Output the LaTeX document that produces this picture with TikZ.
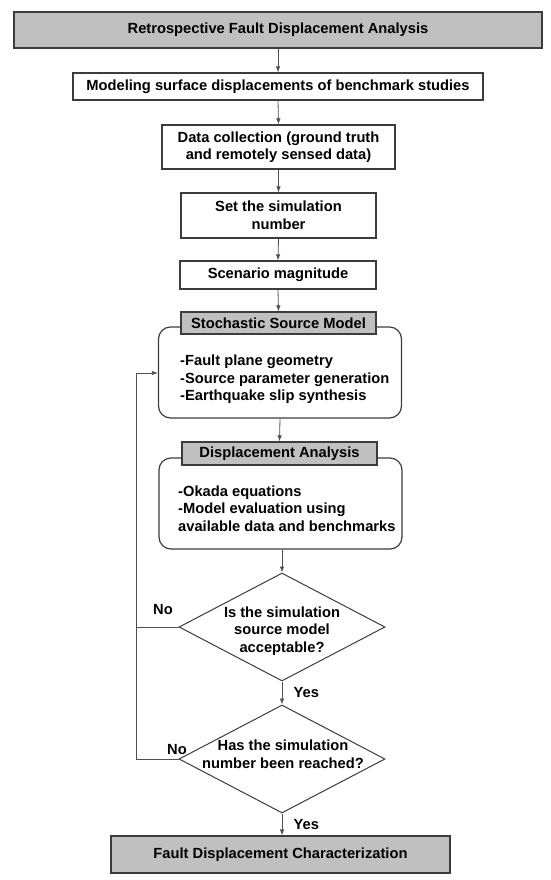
\documentclass[tikz,border=0pt]{standalone}
\usepackage{fontspec}
\setmainfont{Liberation Sans}
\usetikzlibrary{arrows.meta,shapes.geometric}
\definecolor{boxgray}{RGB}{192,192,192}
\definecolor{edgegray}{RGB}{60,60,60}
\definecolor{linegray}{RGB}{80,80,80}
\begin{document}
\begin{tikzpicture}[
        x=1pt, y=-1pt,
        box/.style={
            rectangle,
            draw=edgegray,
            line width=1.2pt,
            fill=white,
            align=center,
            inner sep=2pt,
            font=\bfseries\fontsize{14.7}{17.6}\selectfont
        },
        header/.style={
            box,
            fill=boxgray
        },
        panel/.style={
            rectangle,
            rounded corners=12pt,
            draw=edgegray,
            line width=1.2pt,
            minimum width=243pt,
            minimum height=91pt
        },
        listtext/.style={
            align=left,
            anchor=west,
            inner sep=0pt,
            font=\bfseries\fontsize{14.7}{17.6}\selectfont
        },
        decision/.style={
            diamond,
            draw=edgegray,
            line width=1pt,
            aspect=1.9,
            minimum width=206pt,
            minimum height=108pt,
            inner sep=0pt
        },
        asktext/.style={
            align=center,
            inner sep=0pt,
            font=\bfseries\fontsize{14.7}{17.6}\selectfont
        },
        answer/.style={
            font=\bfseries\fontsize{14.7}{17}\selectfont
        },
        link/.style={
            draw=linegray,
            line width=0.8pt
        },
        >={Latex[length=6pt,width=4.5pt]}
    ]

    \useasboundingbox (0,0) rectangle (550,880);

    % Main boxes
    \node[header, minimum width=528pt, minimum height=36pt] (retro) at (278,30) {Retrospective Fault Displacement Analysis};
    \node[box, minimum width=410pt, minimum height=27pt] (bench) at (278,86.5) {Modeling surface displacements of benchmark studies};
    \node[box, minimum width=233pt, minimum height=44pt] (data) at (278.5,147) {Data collection (ground truth\\and remotely sensed data)};
    \node[box, minimum width=195pt, minimum height=45pt] (simnum) at (278.5,215.5) {Set the simulation\\number};
    \node[box, minimum width=196pt, minimum height=28pt] (magn) at (278,275) {Scenario magnitude};

    % Stochastic source model
    \node[panel] (stoch) at (280,372.5) {};
    \node[header, minimum width=195pt, minimum height=22pt] (stochhead) at (278.5,323) {Stochastic Source Model};
    \node[listtext] (stochlist) at (180,379.5) {-Fault plane geometry\\-Source parameter generation\\-Earthquake slip synthesis};

    % Displacement analysis
    \node[panel] (disp) at (280.5,503.5) {};
    \node[header, minimum width=195pt, minimum height=23pt] (disphead) at (279.5,453.5) {Displacement Analysis};
    \node[listtext] (displist) at (178,508.5) {-Okada equations\\-Model evaluation using\\available data and benchmarks};

    % Decisions
    \node[decision] (accept) at (282,627) {};
    \node[asktext] (accepttext) at (282,631) {Is the simulation\\source model\\acceptable?};
    \node[decision] (reached) at (282,759) {};
    \node[asktext] (reachedtext) at (283,754) {Has the simulation\\number been reached?};
    \node[header, minimum width=339pt, minimum height=37pt] (result) at (280.5,854.5) {Fault Displacement Characterization};

    % Loop corner
    \coordinate (loopA) at (136,627);
    \coordinate (loopB) at (136,373);

    % Connections
    \draw[link,->] (retro.south -| bench.north) -- (bench.north);
    \draw[link,->] (bench.south) -- (data.north);
    \draw[link,->] (data.south) -- (simnum.north);
    \draw[link,->] (simnum.south) -- (magn.north);
    \draw[link,->] (magn.south) -- (stochhead.north);
    \draw[link,->] (stoch.south) -- (disphead.north);
    \draw[link,->] (disp.south -| accept.north) -- (accept.north);
    \draw[link,->] (accept.south) -- (reached.north) node[answer, midway, right=8pt] {Yes};
    \draw[link,->] (reached.south) -- (reached.south |- result.north) node[answer, midway, right=8pt] {Yes};

    \draw[link,->] (accept.west) -- (loopA) -- (loopB) -- (loopB -| stoch.west);
    \draw[link] (reached.west) -| (loopA);
    \node[answer] (no1) at (163,610) {No};
    \node[answer] (no2) at (177,750) {No};

\end{tikzpicture}
\end{document}
